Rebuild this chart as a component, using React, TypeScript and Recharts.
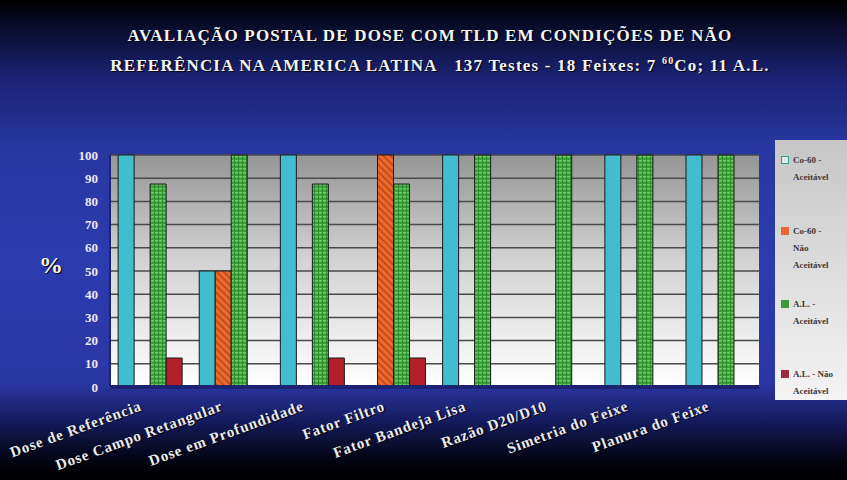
import React from "react";
import { BarChart, Bar, XAxis, YAxis, CartesianGrid, Legend } from "recharts";

const categorias = [
  "Dose de Referência",
  "Dose Campo Retangular",
  "Dose em Profundidade",
  "Fator Filtro",
  "Fator Bandeja Lisa",
  "Razão D20/D10",
  "Simetria do Feixe",
  "Planura do Feixe",
];
const coAceitavel = [100, 50, 100, 0, 100, 0, 100, 100];
const coNaoAceitavel = [0, 50, 0, 100, 0, 0, 0, 0];
const alAceitavel = [87.5, 100, 87.5, 87.5, 100, 100, 100, 100];
const alNaoAceitavel = [12.5, 0, 12.5, 12.5, 0, 0, 0, 0];
const yTicks = [0, 10, 20, 30, 40, 50, 60, 70, 80, 90, 100];

const series = [
  { key: "coA", nome: "Co-60 - Aceitável", fill: "#42bccf", icon: "#2aa08a", linhas: ["Co-60 -", "Aceitável"] },
  { key: "coN", nome: "Co-60 - Não Aceitável", fill: "url(#listrado)", icon: "#e8672c", linhas: ["Co-60 -", "Não", "Aceitável"] },
  { key: "alA", nome: "A.L. - Aceitável", fill: "url(#xadrez)", icon: "#3a9e36", linhas: ["A.L. -", "Aceitável"] },
  { key: "alN", nome: "A.L. - Não Aceitável", fill: "#b3202c", icon: "#9a2a40", linhas: ["A.L. - Não", "Aceitável"] },
];
const legendaTopo = [12, 83, 156, 226];

const dados = categorias.map((c, i) => ({
  nome: c,
  coA: coAceitavel[i],
  coN: coNaoAceitavel[i],
  alA: alAceitavel[i],
  alN: alNaoAceitavel[i],
}));

const serif = "'Liberation Serif', 'DejaVu Serif', serif";

function XTick({ x, y, payload }: any) {
  return (
    <g transform={`translate(${x - 8},${y + 15})`}>
      <text
        transform="rotate(-20)"
        textAnchor="end"
        fill="#ececf4"
        fontSize={15}
        fontWeight="bold"
        letterSpacing={0.9}
        fontFamily={serif}
        style={{ textShadow: "1px 1px 1px #000" }}
      >
        {payload.value}
      </text>
    </g>
  );
}

function Legenda() {
  return (
    <div
      style={{
        width: 72,
        height: 260,
        background: "linear-gradient(to bottom, #c6c6c6, #f4f4f4)",
        fontFamily: serif,
        fontWeight: "bold",
        fontSize: 9,
        color: "#3a3a3a",
        position: "relative",
      }}
    >
      {series.map((s, i) => (
        <div key={s.key} style={{ position: "absolute", left: 6, top: legendaTopo[i], display: "flex" }}>
          <span
            style={{
              width: 6,
              height: 6,
              marginTop: 4,
              marginRight: 4,
              border: `1.5px solid ${s.icon}`,
              background: i === 0 ? "#e6e6e6" : s.icon,
            }}
          />
          <span style={{ lineHeight: "17px" }}>
            {s.linhas.map((l, j) => (
              <div key={j}>{l}</div>
            ))}
          </span>
        </div>
      ))}
    </div>
  );
}

export default function App() {
  return (
    <div
      style={{
        position: "absolute",
        left: 0,
        top: 0,
        width: 847,
        height: 480,
        overflow: "hidden",
        background:
          "linear-gradient(to bottom, #000 0%, #0a0d2e 6%, #1a2272 16%, #2736a0 30%, #2b3cae 55%, #2a36a2 80%, #141a5a 88%, #03040f 96%, #000 100%)",
      }}
    >
      <div
        style={{
          position: "absolute",
          left: 0,
          top: 23,
          width: 880,
          textAlign: "center",
          color: "#f4f4f4",
          fontFamily: serif,
          fontWeight: "bold",
          fontSize: 17,
          lineHeight: "25px",
          letterSpacing: 1.2,
          textShadow: "1px 1px 1px #000",
        }}
      >
        <div style={{ marginRight: 20 }}>AVALIAÇÃO POSTAL DE DOSE COM TLD EM CONDIÇÕES DE NÃO</div>
        <div>
          REFERÊNCIA NA AMERICA LATINA&nbsp;&nbsp;&nbsp;137 Testes - 18 Feixes: 7 <sup style={{ fontSize: 10 }}>60</sup>Co; 11 A.L.
        </div>
      </div>
      <div
        style={{
          position: "absolute",
          left: 39,
          top: 252,
          color: "#f4f4f4",
          fontFamily: serif,
          fontWeight: "bold",
          fontSize: 24,
          textShadow: "1px 1px 1px #000",
        }}
      >
        %
      </div>
      <BarChart
        width={847}
        height={480}
        data={dados}
        margin={{ top: 155, right: 88, bottom: 0, left: 50 }}
        barCategoryGap="10%"
        barGap={0}
      >
        <defs>
          <linearGradient id="fundoPlot" x1="0" y1="0" x2="0" y2="1">
            <stop offset="0%" stopColor="#959595" />
            <stop offset="45%" stopColor="#d2d2d2" />
            <stop offset="100%" stopColor="#ffffff" />
          </linearGradient>
          <pattern id="listrado" width="5" height="5" patternUnits="userSpaceOnUse" patternTransform="rotate(-45)">
            <rect width="5" height="5" fill="#ee6a2c" />
            <rect width="2" height="5" fill="#c44d1e" />
          </pattern>
          <pattern id="xadrez" width="4" height="4" patternUnits="userSpaceOnUse">
            <rect width="4" height="4" fill="#3aa13a" />
            <rect x="0" y="0" width="4" height="1.5" fill="#6fcf60" />
            <rect x="2" y="0" width="1" height="4" fill="#2e8a2e" />
          </pattern>
        </defs>
        <CartesianGrid
          vertical={false}
          stroke="#4a4a4a"
          strokeWidth={1.5}
          fill="url(#fundoPlot)"
          fillOpacity={1}
        />
        <XAxis
          dataKey="nome"
          interval={0}
          height={93}
          tick={<XTick />}
          tickLine={false}
          axisLine={{ stroke: "#1c2370", strokeWidth: 4 }}
        />
        <YAxis
          domain={[0, 100]}
          ticks={yTicks}
          width={60}
          interval={0}
          tickLine={false}
          tickMargin={6}
          axisLine={{ stroke: "#1c2370", strokeWidth: 2 }}
          tick={{ fill: "#eaeaf6", fontSize: 13, fontWeight: "bold", fontFamily: serif }}
        />
        <Legend
          layout="vertical"
          align="center"
          verticalAlign="middle"
          wrapperStyle={{ position: "absolute", left: 775, top: 140, width: 72, height: 260 }}
          content={() => <Legenda />}
        />
        {series.map((s) => (
          <Bar
            key={s.key}
            dataKey={s.key}
            name={s.nome}
            fill={s.fill}
            stroke="#1a1a1a"
            strokeWidth={1}
            isAnimationActive={false}
          />
        ))}
      </BarChart>
    </div>
  );
}
